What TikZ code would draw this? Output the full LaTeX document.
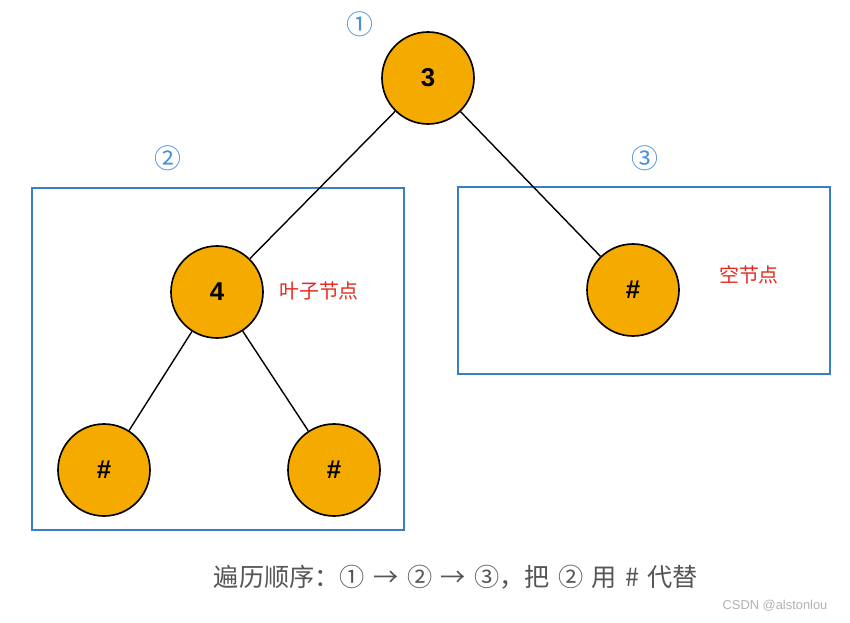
\documentclass[tikz,border=0pt]{standalone}
\usepackage{fontspec}
\setmainfont{Liberation Sans}
\newfontfamily\cjk{Noto Sans CJK SC}
\usepackage{tikz}
\usetikzlibrary{positioning}
\definecolor{NodeOrange}{RGB}{245, 170, 0}
\definecolor{BoxBlue}{RGB}{58, 127, 196}
\definecolor{TagBlue}{RGB}{74, 144, 217}
\definecolor{NoteRed}{RGB}{230, 40, 30}
\definecolor{CaptionGray}{RGB}{85, 85, 85}

\begin{document}
\begin{tikzpicture}[x=0.03cm, y=-0.03cm,
    treenode/.style={circle, draw=black, line width=1.4pt, fill=NodeOrange,
                     minimum size=92*0.03cm, inner sep=0pt,
                     font=\fontsize{22}{24}\selectfont\bfseries},
    part/.style={draw=BoxBlue, line width=1.3pt},
    tag/.style={TagBlue, font=\cjk\fontsize{23}{25}\selectfont},
    note/.style={NoteRed, font=\cjk\fontsize{17}{19}\selectfont},
    edge/.style={line width=1.2pt}]
    \useasboundingbox (0,0) rectangle (850,622);

    % Subtree boxes
    \draw[part] (32,188) rectangle (404,530);
    \draw[part] (458,187) rectangle (830,374);

    % Tree nodes
    \node[treenode] (root) at (428,78) {3};
    \node[treenode] (four) at (217,292) {4};
    \node[treenode] (lhash) at (104,470) {\#};
    \node[treenode] (rhash) at (334,470) {\#};
    \node[treenode] (nhash) at (633,290) {\#};

    % Edges
    \draw[edge] (root) -- (four);
    \draw[edge] (root) -- (nhash);
    \draw[edge] (four) -- (lhash);
    \draw[edge] (four) -- (rhash);

    % Step tags
    \node[tag] (one) at (360,24) {①};
    \node[tag] (two) at (168,158) {②};
    \node[tag] (three) at (645,158) {③};

    % Notes
    \node[note] (leaf) at (319,291) {叶子节点};
    \node[note] (empty) at (749,275) {空节点};

    % Caption
    \node[CaptionGray, font=\cjk\fontsize{21.5}{23}\selectfont] (caption) at (456,577)
        {遍历顺序：①\,\,→\,\,②\,\,→\,\,③，把\,\,②\,\,用\,\,\#\,\,代替};
    \node[gray!60, font=\fontsize{11}{13}\selectfont] (mark) at (775,606) {CSDN @alstonlou};
\end{tikzpicture}
\end{document}
